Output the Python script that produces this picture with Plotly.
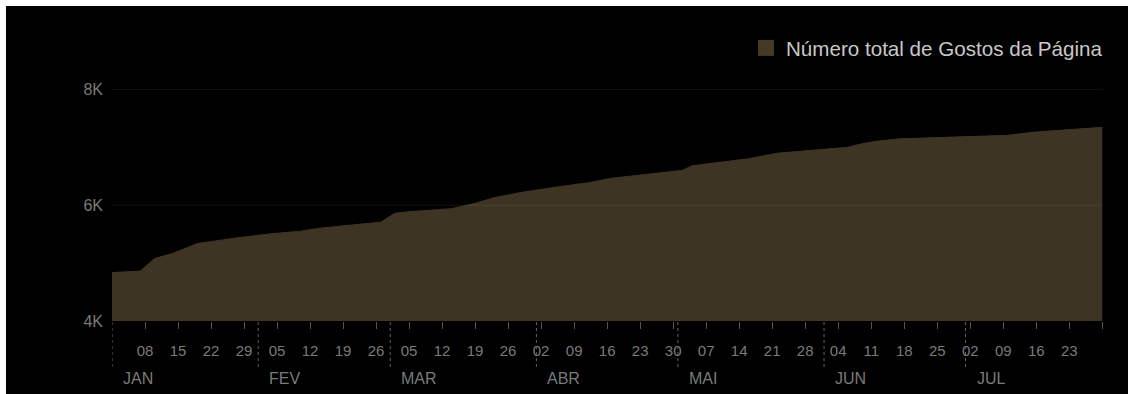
import plotly.graph_objects as go

# ---- data ----
dates = ["2018-01-01", "2018-01-07", "2018-01-10", "2018-01-14", "2018-01-19",
         "2018-01-27", "2018-02-03", "2018-02-10", "2018-02-14", "2018-02-20",
         "2018-02-27", "2018-03-02", "2018-03-05", "2018-03-14", "2018-03-19",
         "2018-03-23", "2018-03-29", "2018-04-05", "2018-04-12", "2018-04-17",
         "2018-04-25", "2018-05-02", "2018-05-04", "2018-05-09", "2018-05-16",
         "2018-05-22", "2018-05-30", "2018-06-06", "2018-06-09", "2018-06-12",
         "2018-06-17", "2018-06-24", "2018-07-04", "2018-07-10", "2018-07-15",
         "2018-07-22", "2018-07-25", "2018-07-30"]
likes = [4836, 4862, 5078, 5172, 5336,
         5431, 5500, 5552, 5603, 5655,
         5707, 5862, 5888, 5940, 6034,
         6129, 6224, 6310, 6388, 6466,
         6534, 6603, 6681, 6733, 6802,
         6897, 6957, 7000, 7060, 7103,
         7146, 7164, 7181, 7207, 7258,
         7302, 7319, 7345]

series_name = "Número total de Gostos da Página"

week_ticks = ["2018-01-08", "2018-01-15", "2018-01-22", "2018-01-29",
              "2018-02-05", "2018-02-12", "2018-02-19", "2018-02-26",
              "2018-03-05", "2018-03-12", "2018-03-19", "2018-03-26",
              "2018-04-02", "2018-04-09", "2018-04-16", "2018-04-23", "2018-04-30",
              "2018-05-07", "2018-05-14", "2018-05-21", "2018-05-28",
              "2018-06-04", "2018-06-11", "2018-06-18", "2018-06-25",
              "2018-07-02", "2018-07-09", "2018-07-16", "2018-07-23", "2018-07-30"]
week_labels = ["08", "15", "22", "29", "05", "12", "19", "26", "05", "12", "19", "26",
               "02", "09", "16", "23", "30", "07", "14", "21", "28",
               "04", "11", "18", "25", "02", "09", "16", "23", ""]

month_starts = ["2018-01-01", "2018-02-01", "2018-03-01", "2018-04-01",
                "2018-05-01", "2018-06-01", "2018-07-01"]
month_labels = ["JAN", "FEV", "MAR", "ABR", "MAI", "JUN", "JUL"]

y_ticks = [4000, 6000, 8000]
y_labels = ["4K", "6K", "8K"]

# ---- style ----
FILL = "#3e3423"
BG = "#000000"
TXT = "#7a7a7a"
FONT = "Liberation Sans, Arial, sans-serif"

W, H = 1132, 394
ML, MR, MT, MB = 112, 25, 72, 73
PW, PH = W - ML - MR, H - MT - MB


def px_x(p):
    return (p - ML) / PW


def px_y(q):
    return (H - MB - q) / PH


fig = go.Figure()
fig.add_trace(go.Scatter(
    x=dates, y=likes, mode="lines", fill="tozeroy",
    fillcolor=FILL, line=dict(color=FILL, width=1),
    showlegend=False, hoverinfo="x+y"))
# legend entry (square swatch)
fig.add_trace(go.Scatter(
    x=[None], y=[None], mode="markers", name=series_name,
    marker=dict(symbol="square", size=16, color="#463a27")))

shapes = []
# black canvas with thin white page border at top/left/right
shapes.append(dict(type="rect", xref="paper", yref="paper",
                   x0=px_x(6), x1=px_x(1128), y0=px_y(394), y1=px_y(6),
                   fillcolor=BG, line=dict(width=0), layer="below"))
# gridlines (drawn over the area as in the reference)
for v in y_ticks[1:]:
    shapes.append(dict(type="line", xref="paper", yref="y", x0=0, x1=(1103 - ML) / PW,
                       y0=v, y1=v, line=dict(color="rgba(255,255,255,0.075)", width=1),
                       layer="above"))
# dotted month separators
for m in month_starts:
    shapes.append(dict(type="line", xref="x", yref="paper", x0=m, x1=m,
                       y0=px_y(322), y1=px_y(370),
                       line=dict(color="#626262", width=1, dash="dot")))

annotations = []
for m, lab in zip(month_starts, month_labels):
    annotations.append(dict(x=m, xref="x", y=px_y(378), yref="paper",
                            text=lab, showarrow=False, xanchor="left", yanchor="middle",
                            xshift=9, font=dict(family=FONT, size=16, color=TXT)))

fig.update_layout(
    width=W, height=H,
    margin=dict(l=ML, r=MR, t=MT, b=MB, pad=0),
    paper_bgcolor="#ffffff", plot_bgcolor="rgba(0,0,0,0)",
    shapes=shapes, annotations=annotations,
    showlegend=True,
    legend=dict(x=px_x(1108), xanchor="right", y=px_y(48), yanchor="middle",
                bgcolor="rgba(0,0,0,0)", font=dict(family=FONT, size=20.6, color="#c8c8c8"),
                itemwidth=30, tracegroupgap=0),
    xaxis=dict(type="date", range=["2018-01-01", "2018-07-31"],
               tickvals=week_ticks, ticktext=week_labels,
               ticks="outside", ticklen=7, tickcolor="#555555", tickwidth=1,
               ticklabelstandoff=9,
               tickfont=dict(family=FONT, size=15, color=TXT),
               showgrid=False, zeroline=False, showline=False),
    yaxis=dict(range=[4000, 8300], tickvals=y_ticks, ticktext=y_labels,
               showgrid=False, zeroline=False, showline=False, ticks="",
               ticklabelstandoff=8,
               tickfont=dict(family=FONT, size=16, color=TXT)),
)

fig.write_html("out.html")
